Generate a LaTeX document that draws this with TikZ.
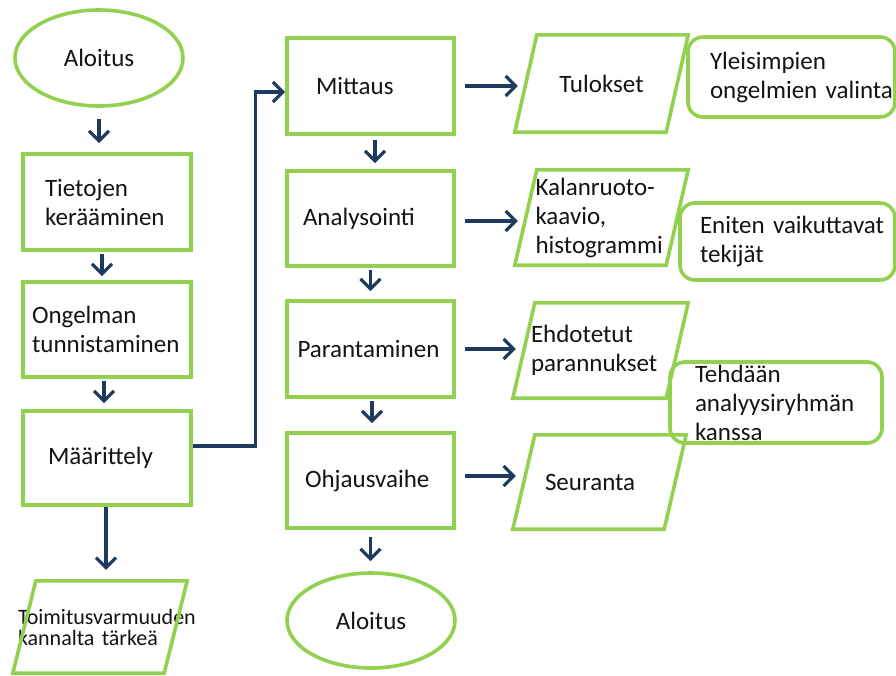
\documentclass[tikz,border=0pt]{standalone}
\usepackage{fontspec}
\setmainfont{Carlito}
\usetikzlibrary{arrows.meta,shapes.geometric,calc}
\definecolor{grn}{HTML}{92D050}
\definecolor{navy}{HTML}{1F3A5F}
\definecolor{ink}{HTML}{141414}
\begin{document}
\hyphenpenalty=10000
\exhyphenpenalty=10000
\begin{tikzpicture}[x=1pt,y=-1pt,
  every node/.style={text=ink, font=\fontsize{25}{29}\selectfont, align=left, inner sep=0pt},
  stepbox/.style={draw=grn, line width=3.6pt, rectangle, minimum width=168pt, minimum height=96pt},
  oval/.style={draw=grn, line width=3.6pt, ellipse, minimum width=168pt, minimum height=96pt},
  note/.style={draw=grn, line width=3.6pt, rounded corners=15pt, rectangle},
  slantbox/.style={rectangle, minimum width=173pt, minimum height=96pt},
  slantline/.style={draw=grn, line width=3.6pt, line join=miter},
  arr/.style={draw=navy, line width=3.2pt, -{Straight Barb[length=10pt,width=20pt]}}
]
\fill[white] (0,0) rectangle (896,675);
\useasboundingbox (0,0) rectangle (896,675);

% left column
\node[oval] (s1) at (99,58) {Aloitus};
\node[stepbox, text width=124pt] (b1) at (107,202) {Tietojen\\kerääminen};
\node[stepbox, text width=150pt, minimum height=95pt] (b2) at (107,329.5) {Ongelman\\tunnistaminen};
\node[stepbox, text width=118pt, minimum height=94pt] (b3) at (107,458) {Määrittely};
\node[slantbox, text width=164pt, minimum width=174pt, minimum height=92pt,
      font=\fontsize{22}{21}\selectfont] (p0) at (100,627) {Toimitusvarmuuden\\kannalta tärkeä};

% middle column
\node[stepbox, text width=109pt, minimum width=167pt] (m1) at (370.5,86) {Mittaus};
\node[stepbox, text width=135pt, minimum width=167pt, minimum height=95pt] (m2) at (370.5,218.5) {Analysointi};
\node[stepbox, text width=146pt, minimum width=167pt] (m3) at (370.5,349) {Parantaminen};
\node[stepbox, text width=131pt, minimum width=167pt, minimum height=95pt] (m4) at (370.5,480.5) {Ohjausvaihe};
\node[oval, minimum height=95pt] (s2) at (371,620.5) {Aloitus};

% outputs
\node[slantbox, minimum height=97pt] (p1) at (601.5,83.5) {Tulokset};
\node[slantbox, text width=132pt, minimum height=95pt] (p2) at (601.5,217.5) {Kalanruoto-\\kaavio,\\histogrammi};
\node[slantbox, text width=139pt, minimum width=175pt, minimum height=95pt] (p3) at (600.5,350.5) {Ehdotetut\\parannukset};
\node[slantbox, text width=109pt, minimum height=94pt] (p4) at (599.5,482) {Seuranta};

\foreach \n/\s in {p0/23,p1/22,p2/22,p3/22,p4/22}
  \draw[slantline] ($(\n.north west)+(\s,0)$) -- (\n.north east)
    -- ($(\n.south east)-(\s,0)$) -- (\n.south west) -- cycle;

% notes
\node[note, text width=163pt, minimum width=207pt, minimum height=80pt] (n1) at (791.5,77) {Yleisimpien\\ongelmien~valinta};
\node[note, text width=175pt, minimum width=215pt, minimum height=77pt] (n2) at (787.5,241.5) {Eniten~vaikuttavat\\tekijät};
\node[note, text width=162pt, minimum width=212pt, minimum height=81pt] (n3) at (776,402.5) {Tehdään\\analyysiryhmän\\kanssa};

% vertical flow, left
\draw[arr, shorten <=11pt, shorten >=9pt] (s1.south) -- (s1.south |- b1.north);
\draw[arr, shorten <=2pt, shorten >=4pt] ([xshift=-5pt]b1.south) -- ([xshift=-5pt]b2.north);
\draw[arr, shorten <=2pt, shorten >=6pt] ([xshift=-3pt]b2.south) -- ([xshift=-3pt]b3.north);
\draw[arr, shorten >=11pt] ([xshift=-1pt]b3.south) -- ([xshift=-1pt]b3.south |- p0.north);

% jump to the second column
\draw[arr] ([yshift=12pt]b3.east) -- ++(63,0) |- ([yshift=-6pt]m1.west);

% vertical flow, middle
\draw[arr, shorten <=4pt, shorten >=6pt] ([xshift=4.5pt]m1.south) -- ([xshift=4.5pt]m2.north);
\draw[arr, shorten <=2pt, shorten >=8pt] (m2.south) -- (m3.north);
\draw[arr, shorten <=2pt, shorten >=8pt] ([xshift=1.5pt]m3.south) -- ([xshift=1.5pt]m4.north);
\draw[arr, shorten <=7pt, shorten >=10pt] (m4.south) -- (m4.south |- s2.north);

% outputs of each phase
\draw[arr, shorten <=9pt, shorten >=-3pt] (m1.east) -- (m1.east -| p1.west);
\draw[arr, shorten <=9pt, shorten >=-3pt] ([yshift=-2.5pt]m2.east) -- ([yshift=-2.5pt]m2.east -| p2.west);
\draw[arr, shorten <=9pt, shorten >=-3pt] (m3.east) -- (m3.east -| p3.west);
\draw[arr, shorten <=9pt, shorten >=-3pt] ([yshift=4.5pt]m4.east) -- ([yshift=4.5pt]m4.east -| p4.west);
\end{tikzpicture}
\end{document}
